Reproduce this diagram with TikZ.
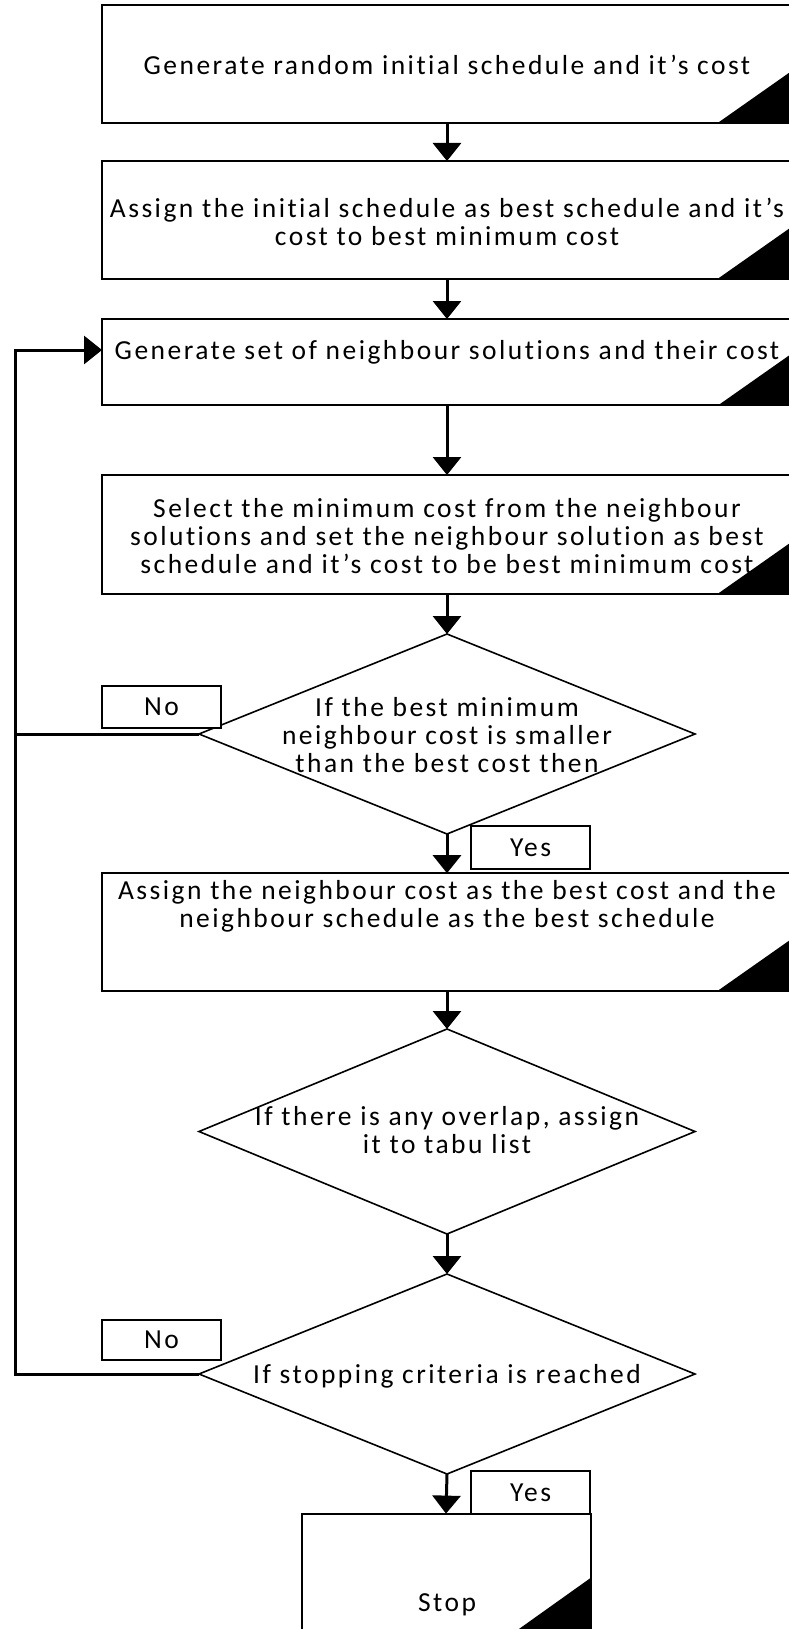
\documentclass[tikz,border=0pt]{standalone}
\usepackage{fontspec}
\setmainfont{Carlito}[LetterSpace=9,Ligatures=NoCommon]
\usetikzlibrary{arrows.meta,shapes.geometric}
\newcommand\myfs{\fontsize{27.5}{28}\selectfont}
\begin{document}
\begin{tikzpicture}[x=1pt,y=-1pt,
 box/.style={draw, line width=2pt, fill=white, minimum width=690pt, inner sep=0, outer sep=0},
 dec/.style={draw, diamond, line width=1.6pt, fill=white, inner sep=0, outer sep=0, minimum width=496pt},
 lab/.style={draw, line width=2pt, fill=white, minimum width=119.5pt, inner sep=0, outer sep=0, font=\myfs},
 txt/.style={align=center, font=\myfs, inner sep=0},
 flow/.style={line width=3pt, -{Triangle[length=18pt,width=28pt]}},
 link/.style={line width=3pt},
 corner/.style={fill=black}]
\useasboundingbox (0,0) rectangle (789,1629);
\fill[white] (0,0) rectangle (789,1629);

% boxes
\node[box, minimum height=117.5pt] (b1) at (447,64) {};
\node[box, minimum height=117.6pt] (b2) at (447,219.8) {};
\node[box, minimum height=86.4pt] (b3) at (447,362.2) {};
\node[box, minimum height=118.6pt] (b4) at (447,534.3) {};
\node[box, minimum height=117.4pt] (b5) at (447,931.9) {};
\node[box, minimum width=289pt, minimum height=116.4pt] (stop) at (446,1571.8) {};

% decisions
\node[dec, minimum height=200pt] (d1) at (447,734) {};
\node[dec, minimum height=205pt] (d2) at (447,1131.5) {};
\node[dec, minimum height=200pt] (d3) at (447,1374) {};

% corner marks
\foreach \b in {b1,b2,b3,b4,b5}
  \fill[corner] (\b.south east) -- ++(-74,0) -- ++(74,-52) -- cycle;
\fill[corner] (stop.south east) -- ++(-73,0) -- ++(73,-52) -- cycle;

% texts
\node[txt] (t1) at (447,64.5) {Generate random initial schedule and it’s cost};
\node[txt] (t2) at (447,222) {Assign the initial schedule as best schedule and it’s\\cost to best minimum cost};
\node[txt] (t3) at (447,352) {Generate set of neighbour solutions and their cost};
\node[txt] (t4) at (447,536) {Select the minimum cost from the neighbour\\solutions and set the neighbour solution as best\\schedule and it’s cost to be best minimum cost};
\node[txt] (t5) at (447,906) {Assign the neighbour cost as the best cost and the\\neighbour schedule as the best schedule};
\node[txt] (td1) at (447,735) {If the best minimum\\neighbour cost is smaller\\than the best cost then};
\node[txt] (td2) at (447,1130.5) {If there is any overlap, assign\\it to tabu list};
\node[txt] (td3) at (447,1376) {If stopping criteria is reached};
\node[txt] (ts) at (447,1605) {Stop};

% connectors
\draw[flow] (b1.south) -- (b2.north);
\draw[flow] (b2.south) -- (b3.north);
\draw[flow] (b3.south) -- (b4.north);
\draw[flow] (b4.south) -- (d1.north);
\draw[flow] (d1.south) -- (b5.north);
\draw[flow] (b5.south) -- (d2.north);
\draw[flow] (d2.south) -- (d3.north);
\draw[flow] (d3.south) -- (stop.north);
\coordinate (lc) at (15.6,350);
\draw[flow] (d3.west) -| (lc) -- (lc -| b3.west);
\draw[link] (d1.west) -- (d1.west -| lc);

% labels
\node[lab, minimum height=41.7pt] (no1) at (161.6,706.9) {No};
\node[lab, minimum height=40pt] (no2) at (161.6,1340) {No};
\node[lab, minimum height=42.6pt] (yes1) at (530.6,847.7) {Yes};
\node[lab, minimum height=42.6pt] (yes2) at (530.6,1492.3) {Yes};
\end{tikzpicture}
\end{document}
